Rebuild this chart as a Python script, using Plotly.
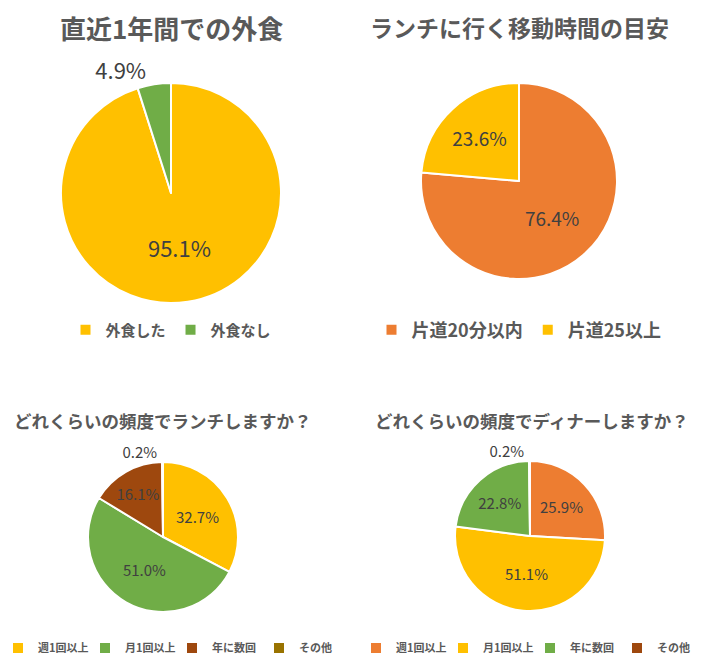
import plotly.graph_objects as go

# the page adds an 8px body margin, so the figure is a little smaller than the window
PAGE_W, PAGE_H, OFF = 704, 671, 8
W, H = PAGE_W - OFF, PAGE_H - OFF

# data
eat_out_title = "直近1年間での外食"
eat_out_labels = ["外食した", "外食なし"]
eat_out_values = [95.1, 4.9]

travel_title = "ランチに行く移動時間の目安"
travel_labels = ["片道20分以内", "片道25以上"]
travel_values = [76.4, 23.6]

lunch_title = "どれくらいの頻度でランチしますか？"
lunch_labels = ["週1回以上", "月1回以上", "年に数回", "その他"]
lunch_values = [32.7, 51.0, 16.1, 0.2]

dinner_title = "どれくらいの頻度でディナーしますか？"
dinner_labels = ["週1回以上", "月1回以上", "年に数回", "その他"]
dinner_values = [25.9, 51.1, 22.8, 0.2]

ORANGE = "#ED7D31"
GOLD = "#FFC000"
GREEN = "#70AD47"
BROWN = "#9E480E"
OLIVE = "#997300"
FONT = "Noto Sans CJK JP"
LABEL_COLOR = "#404040"
TITLE_COLOR = "#595959"


def px(x):
    return (x - OFF) / W


def py(y):
    return 1 - (y - OFF) / H


def domain(cx, cy, r):
    return dict(x=[px(cx - r), px(cx + r)], y=[py(cy + r), py(cy - r)])


def pie(labels, values, colors, positions, box, legend, size):
    return go.Pie(
        labels=labels,
        values=values,
        sort=False,
        direction="clockwise",
        rotation=0,
        marker=dict(colors=colors, line=dict(color="white", width=2)),
        texttemplate="%{value:.1f}%",
        textposition=positions,
        insidetextorientation="horizontal",
        insidetextfont=dict(family=FONT, size=size, color=LABEL_COLOR),
        outsidetextfont=dict(family=FONT, size=size, color=LABEL_COLOR),
        domain=domain(*box),
        legend=legend,
        legendgroup=legend,
        hoverinfo="label+value",
    )


fig = go.Figure()
fig.add_trace(pie(eat_out_labels, eat_out_values, [GOLD, GREEN],
                  ["inside", "outside"], (171, 193, 110), "legend", 22))
fig.add_trace(pie(travel_labels, travel_values, [ORANGE, GOLD],
                  ["inside", "inside"], (519, 181, 98), "legend2", 19))
fig.add_trace(pie(lunch_labels, lunch_values, [GOLD, GREEN, BROWN, OLIVE],
                  ["inside", "inside", "inside", "outside"], (163, 537, 75), "legend3", 15))
fig.add_trace(pie(dinner_labels, dinner_values, [ORANGE, GOLD, GREEN, BROWN],
                  ["inside", "inside", "inside", "outside"], (530, 536, 75), "legend4", 15))


def legend_box(x, y, size, entry=None):
    box = dict(
        orientation="h", traceorder="normal",
        x=px(x), y=py(y), xanchor="center", yanchor="middle",
        font=dict(family=FONT, size=size, color=TITLE_COLOR, weight="bold"),
        bgcolor="rgba(0,0,0,0)", itemwidth=30,
    )
    if entry:
        box["entrywidth"] = entry
        box["entrywidthmode"] = "pixels"
    return box


# titles of the two top charts are anchored at their top so they stay inside the page
titles = [
    (eat_out_title, 171, 8, 26, "top"),
    (travel_title, 519, 9, 23, "top"),
    (lunch_title, 163, 420, 17.5, "middle"),
    (dinner_title, 532, 420, 17.5, "middle"),
]
annotations = [
    dict(text="<b>%s</b>" % t, x=px(x), y=py(y), xref="paper", yref="paper",
         xanchor="center", yanchor=anchor, showarrow=False, borderpad=0,
         font=dict(family=FONT, size=s, color=TITLE_COLOR))
    for t, x, y, s, anchor in titles
]

fig.update_layout(
    width=W,
    height=H,
    margin=dict(l=0, r=0, t=0, b=0, autoexpand=False),
    paper_bgcolor="white",
    plot_bgcolor="white",
    font=dict(family=FONT, color=TITLE_COLOR),
    showlegend=True,
    legend=legend_box(171, 330, 15),
    legend2=legend_box(519, 330, 18),
    legend3=legend_box(172, 648, 11, 42),
    legend4=legend_box(530, 648, 11, 42),
    annotations=annotations,
)

fig.write_html("out.html")
